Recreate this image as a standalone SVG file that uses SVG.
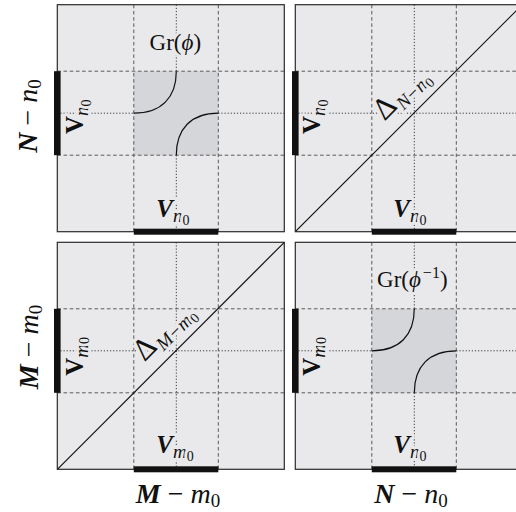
<svg xmlns="http://www.w3.org/2000/svg" width="516" height="512" viewBox="0 0 516 512">
<style>
.panel{fill:#e9e9eb;stroke:none}
.frame{fill:none;stroke:#2b2b2b;stroke-width:1.2}
.shade{fill:#d4d6d9}
.dash{stroke:#5a5a5a;stroke-width:1;stroke-dasharray:3.6 2.6;fill:none}
.dot{stroke:#3a3a3a;stroke-width:1;stroke-dasharray:1.2 1.9;fill:none}
.curve{stroke:#111;stroke-width:1.2;fill:none}
.bar{fill:#111}
.t{font-family:"Liberation Serif","DejaVu Serif",serif;fill:#111}
.halo{paint-order:stroke;stroke:#e9e9eb;stroke-width:6;stroke-linejoin:round}
.bi{font-weight:bold;font-style:italic}
.b{font-weight:bold}
.i{font-style:italic;font-weight:normal}
.r{font-style:normal;font-weight:normal}
</style>

<g id="gr-phi" transform="translate(57.3,4.7)">
  <rect class="panel" x="0" y="0" width="227" height="227"/>
  <rect class="shade" x="76.5" y="66.5" width="84.5" height="84"/>
  <path class="dash" d="M76.5,0V227M161,0V227M0,66.5H227M0,150.5H227"/>
  <path class="dot" d="M119,0V66.5M119,150.5V227M0,108.5H76.5M161,108.5H227"/>
  <text class="t halo" x="118" y="45" font-size="23" text-anchor="middle">Gr(<tspan class="i">ϕ</tspan>)</text>
  <text class="t halo b" transform="translate(26,112) rotate(-90)" font-size="25" text-anchor="middle">V<tspan class="i" font-size="19" dy="5">n</tspan><tspan class="r" font-size="14" dy="3">0</tspan></text>
  <text class="t halo bi" x="99" y="212" font-size="25">V<tspan class="i" font-size="19" dy="5">n</tspan><tspan class="r" font-size="14" dy="3">0</tspan></text>
  <path class="curve" d="M76.5,108.5C104,108.5 119,93 119,66.5M119,150.5C119,124 134,108.5 161,108.5"/>
  <rect class="frame" x="0" y="0" width="227" height="227"/>
  <rect class="bar" x="-3.3" y="66.5" width="6.6" height="84"/>
  <rect class="bar" x="76.5" y="224" width="84.5" height="6"/>
</g>

<g id="delta-N" transform="translate(295.3,4.7)">
  <rect class="panel" x="0" y="0" width="227" height="227"/>
  <path class="dash" d="M76.5,0V227M161,0V227M0,66.5H227M0,150.5H227"/>
  <path class="dot" d="M119,0V227M0,108.5H227"/>
  <text class="t halo" transform="translate(111.5,94.5) rotate(-45)" font-size="31" text-anchor="middle">Δ<tspan class="i" font-size="19" dy="6" dx="1">N</tspan><tspan class="r" font-size="19" dx="1">−</tspan><tspan class="i" font-size="19" dx="1">n</tspan><tspan class="r" font-size="14" dy="3">0</tspan></text>
  <text class="t halo b" transform="translate(25,112) rotate(-90)" font-size="25" text-anchor="middle">V<tspan class="i" font-size="19" dy="5">n</tspan><tspan class="r" font-size="14" dy="3">0</tspan></text>
  <text class="t halo bi" x="98" y="212" font-size="25">V<tspan class="i" font-size="19" dy="5">n</tspan><tspan class="r" font-size="14" dy="3">0</tspan></text>
  <path class="curve" d="M0,227L227,0"/>
  <rect class="frame" x="0" y="0" width="227" height="227"/>
  <rect class="bar" x="-3.3" y="66.5" width="6.6" height="84"/>
  <rect class="bar" x="76.5" y="224" width="84.5" height="6"/>
</g>

<g id="delta-M" transform="translate(57.3,242.3)">
  <rect class="panel" x="0" y="0" width="227" height="227"/>
  <path class="dash" d="M76.5,0V227M161,0V227M0,66.5H227M0,150.5H227"/>
  <path class="dot" d="M119,0V227M0,108.5H227"/>
  <text class="t halo" transform="translate(112,95) rotate(-45)" font-size="31" text-anchor="middle">Δ<tspan class="i" font-size="19" dy="6" dx="1">M</tspan><tspan class="r" font-size="19" dx="1">−</tspan><tspan class="i" font-size="19" dx="1">m</tspan><tspan class="r" font-size="14" dy="3">0</tspan></text>
  <text class="t halo b" transform="translate(26,114) rotate(-90)" font-size="25" text-anchor="middle">V<tspan class="i" font-size="19" dy="5">m</tspan><tspan class="r" font-size="14" dy="1">0</tspan></text>
  <text class="t halo bi" x="99" y="211" font-size="25">V<tspan class="i" font-size="19" dy="5">m</tspan><tspan class="r" font-size="14" dy="3">0</tspan></text>
  <path class="curve" d="M0,227L227,0"/>
  <rect class="frame" x="0" y="0" width="227" height="227"/>
  <rect class="bar" x="-3.3" y="66.5" width="6.6" height="84"/>
  <rect class="bar" x="76.5" y="224" width="84.5" height="6"/>
</g>

<g id="gr-phi-inv" transform="translate(295.3,242.3)">
  <rect class="panel" x="0" y="0" width="227" height="227"/>
  <rect class="shade" x="76.5" y="66.5" width="84.5" height="84"/>
  <path class="dash" d="M76.5,0V227M161,0V227M0,66.5H227M0,150.5H227"/>
  <path class="dot" d="M119,0V66.5M119,150.5V227M0,108.5H76.5M161,108.5H227"/>
  <text class="t halo" x="117" y="45" font-size="23" text-anchor="middle">Gr(<tspan class="i">ϕ</tspan><tspan class="r" font-size="16" dy="-9" dx="2">−1</tspan><tspan dy="9">)</tspan></text>
  <text class="t halo b" transform="translate(25,114) rotate(-90)" font-size="25" text-anchor="middle">V<tspan class="i" font-size="19" dy="5">m</tspan><tspan class="r" font-size="14" dy="1">0</tspan></text>
  <text class="t halo bi" x="98" y="211" font-size="25">V<tspan class="i" font-size="19" dy="5">n</tspan><tspan class="r" font-size="14" dy="3">0</tspan></text>
  <path class="curve" d="M76.5,108.5C104,108.5 119,93 119,66.5M119,150.5C119,124 134,108.5 161,108.5"/>
  <rect class="frame" x="0" y="0" width="227" height="227"/>
  <rect class="bar" x="-3.3" y="66.5" width="6.6" height="84"/>
  <rect class="bar" x="76.5" y="224" width="84.5" height="6"/>
</g>

<g id="axis-labels">
  <text class="t" transform="translate(37,116) rotate(-90)" font-size="28" text-anchor="middle"><tspan class="bi">N</tspan> − <tspan class="i">n</tspan><tspan font-size="19" dy="4">0</tspan></text>
  <text class="t" transform="translate(38,347) rotate(-90)" font-size="28" text-anchor="middle"><tspan class="bi">M</tspan> − <tspan class="i">m</tspan><tspan font-size="19" dy="4">0</tspan></text>
  <text class="t" x="178" y="503" font-size="28" text-anchor="middle"><tspan class="bi">M</tspan> − <tspan class="i">m</tspan><tspan font-size="19" dy="4">0</tspan></text>
  <text class="t" x="411" y="503" font-size="28" text-anchor="middle"><tspan class="bi">N</tspan> − <tspan class="i">n</tspan><tspan font-size="19" dy="4">0</tspan></text>
</g>
</svg>
